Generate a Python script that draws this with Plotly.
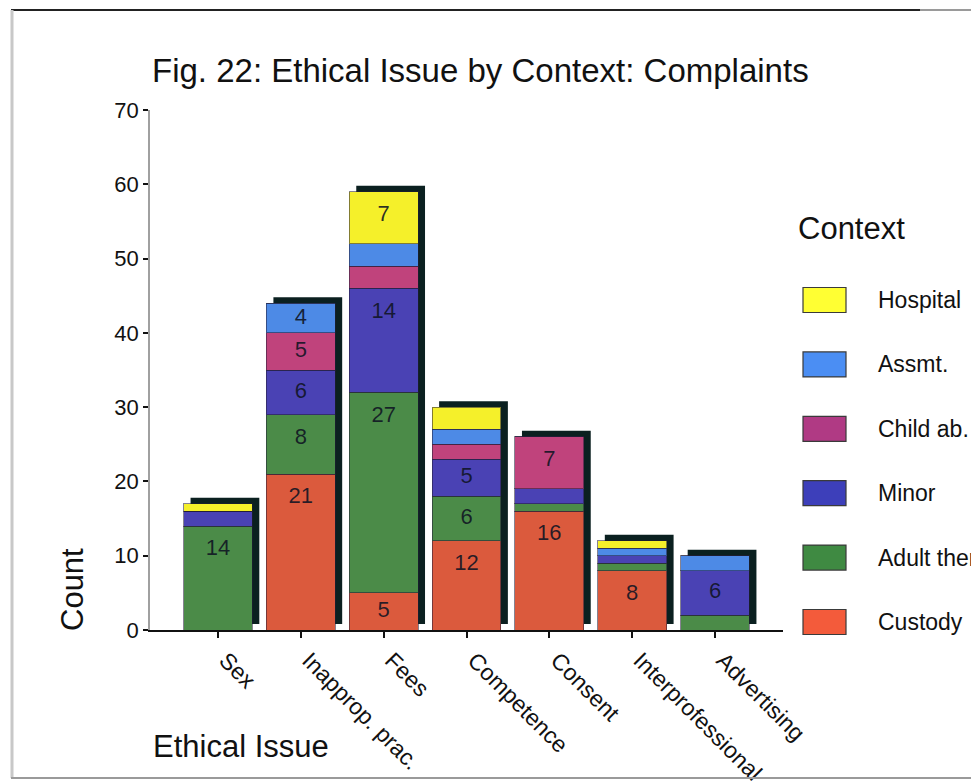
import plotly.graph_objects as go
import numpy as np

# Complaint counts by ethical issue, split by context
categories = ["Sex", "Inapprop. prac.", "Fees", "Competence", "Consent",
              "Interprofessional", "Advertising"]
custody = [0, 21, 5, 12, 16, 8, 0]
adult_therapy = [14, 8, 27, 6, 1, 1, 2]
minor = [2, 6, 14, 5, 2, 1, 6]
child_ab = [0, 5, 3, 2, 7, 0, 0]
assmt = [0, 4, 3, 2, 0, 1, 2]
hospital = [1, 0, 7, 3, 0, 1, 0]

# stacking order, bottom to top
series = [
    ("Custody", custody, "#db5a3d", "#f35b3b"),
    ("Adult therapy", adult_therapy, "#4b8b48", "#3f8a42"),
    ("Minor", minor, "#4a42b4", "#3d3fba"),
    ("Child ab.", child_ab, "#c0437c", "#b03a84"),
    ("Assmt.", assmt, "#4d8ae6", "#4b8ef3"),
    ("Hospital", hospital, "#f5f02a", "#ffff33"),
]

FONT = "Liberation Sans, Arial, sans-serif"
W, H = 971, 782
ML, MR, MT, MB = 150, 188, 110, 152
PW, PH = W - ML - MR, H - MT - MB
BAR_W = 0.83


def px_x(px):
    return (px - ML) / PW


def px_y(py):
    return (H - MB - py) / PH


fig = go.Figure()

x_idx = np.arange(len(categories))
totals = np.zeros(len(categories))
for name, vals, col, _ in series:
    fig.add_trace(go.Bar(
        x=categories, y=vals, name=name, width=BAR_W,
        marker=dict(color=col, line=dict(color="rgba(35,30,55,0.55)", width=1)),
        hoverinfo="x+y+name", showlegend=False,
    ))
    totals = totals + np.array(vals)

# value labels: centred in small segments, kept near the top of tall ones
lab_x, lab_y, lab_t = [], [], []
base = np.zeros(len(categories))
for name, vals, col, _ in series:
    v = np.array(vals, dtype=float)
    top = base + v
    for i in range(len(categories)):
        if v[i] >= 4:
            lab_x.append(categories[i])
            lab_y.append(top[i] - min(v[i] / 2, 3.2))
            lab_t.append(str(int(v[i])))
    base = top
fig.add_trace(go.Scatter(
    x=lab_x, y=lab_y, text=lab_t, mode="text",
    textfont=dict(family=FONT, size=22, color="rgba(15,20,35,0.88)"),
    hoverinfo="skip", showlegend=False,
))

shapes = []
# drop shadows behind each stacked bar
dx, dy = 7 / (PW / 7.64), 6 / (PH / 70)
for i, t in enumerate(totals):
    shapes.append(dict(
        type="rect", xref="x", yref="y", layer="below",
        x0=x_idx[i] - BAR_W / 2 + dx, x1=x_idx[i] + BAR_W / 2 + dx,
        y0=dy, y1=t + dy,
        fillcolor="#0b2020", line=dict(width=0),
    ))

# outer frame
shapes.append(dict(type="line", xref="paper", yref="paper",
                   x0=px_x(11), x1=px_x(920), y0=px_y(10), y1=px_y(10),
                   line=dict(color="#222222", width=2)))
shapes.append(dict(type="line", xref="paper", yref="paper",
                   x0=px_x(920), x1=px_x(975), y0=px_y(10), y1=px_y(10),
                   line=dict(color="#9a9a9a", width=2)))
shapes.append(dict(type="line", xref="paper", yref="paper",
                   x0=px_x(12), x1=px_x(12), y0=px_y(10), y1=px_y(778),
                   line=dict(color="#c8c8c8", width=3)))
shapes.append(dict(type="line", xref="paper", yref="paper",
                   x0=px_x(11), x1=px_x(975), y0=px_y(778), y1=px_y(778),
                   line=dict(color="#9a9a9a", width=2)))

annotations = []
# legend, top to bottom
for k, (name, vals, col, swatch) in enumerate(reversed(series)):
    yc = 300 + 64.4 * k
    shapes.append(dict(
        type="rect", xref="paper", yref="paper",
        x0=px_x(803), x1=px_x(846), y0=px_y(yc + 12.5), y1=px_y(yc - 12.5),
        fillcolor=swatch, line=dict(color="#3a3a3a", width=1.2),
    ))
    annotations.append(dict(
        xref="paper", yref="paper", x=px_x(876), y=px_y(yc),
        xanchor="left", yanchor="middle", text=name, showarrow=False,
        font=dict(family=FONT, size=23, color="#111111"),
    ))
annotations.append(dict(
    xref="paper", yref="paper", x=px_x(796), y=px_y(228),
    xanchor="left", yanchor="middle", text="Context", showarrow=False,
    font=dict(family=FONT, size=31, color="#111111"),
))
annotations.append(dict(
    xref="paper", yref="paper", x=px_x(72), y=px_y(590),
    xanchor="center", yanchor="middle", text="Count", textangle=-90,
    showarrow=False,
    font=dict(family=FONT, size=31, color="#111111"),
))
annotations.append(dict(
    xref="paper", yref="paper", x=px_x(151), y=px_y(746),
    xanchor="left", yanchor="middle", text="Ethical Issue", showarrow=False,
    font=dict(family=FONT, size=31, color="#111111"),
))

fig.update_layout(
    width=W, height=H,
    margin=dict(l=ML, r=MR, t=MT, b=MB, autoexpand=False),
    barmode="stack",
    bargap=0.17,
    paper_bgcolor="white", plot_bgcolor="white",
    title=dict(
        text="Fig. 22: Ethical Issue by Context: Complaints",
        x=152 / W, xanchor="left",
        y=1 - 70 / H, yanchor="middle",
        font=dict(family=FONT, size=33, color="#111111"),
    ),
    xaxis=dict(
        type="category", range=[-0.82, 6.82], automargin=False,
        showline=True, linecolor="#111111", linewidth=1.5,
        ticks="outside", ticklen=6, tickwidth=2, tickcolor="#111111",
        tickangle=45, ticklabelshift=8, showgrid=False, zeroline=False,
        tickfont=dict(family=FONT, size=23, color="#111111"),
    ),
    yaxis=dict(
        range=[0, 70], tickvals=list(range(0, 71, 10)), automargin=False,
        showline=True, linecolor="#a0a0a0", linewidth=1.5,
        ticks="outside", ticklen=5, tickwidth=2, tickcolor="#111111",
        showgrid=False, zeroline=False,
        tickfont=dict(family=FONT, size=22, color="#111111"),
    ),
    shapes=shapes,
    annotations=annotations,
    showlegend=False,
)

fig.write_html("out.html")
